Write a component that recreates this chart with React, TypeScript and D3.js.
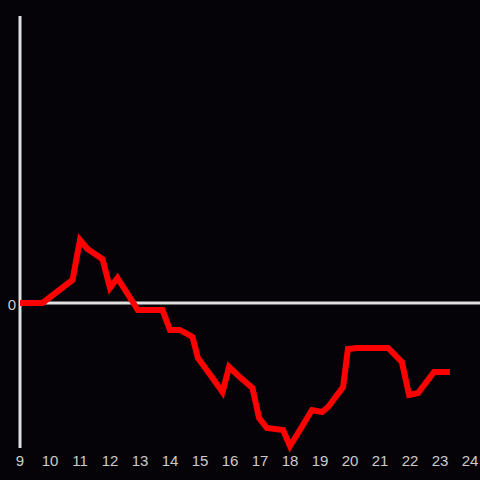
import React from "react";
import * as d3 from "d3";

const times = [9, 9.75, 10.75, 11, 11.25, 11.75, 12, 12.25, 12.93, 13.75, 14, 14.33, 14.75, 14.93, 15.25, 15.75, 15.97, 16.25, 16.75, 16.97, 17.23, 17.77, 18, 18.27, 18.73, 19.07, 19.27, 19.77, 19.93, 20.23, 21.27, 21.73, 21.97, 22.27, 22.8, 23.33];
const values = [0, 0, 2.3, 6.3, 5.4, 4.4, 1.5, 2.5, -0.7, -0.7, -2.7, -2.7, -3.4, -5.5, -6.8, -8.9, -6.4, -7.2, -8.5, -11.5, -12.5, -12.7, -14.3, -13, -10.7, -10.9, -10.4, -8.4, -4.6, -4.5, -4.5, -5.9, -9.2, -9, -6.9, -6.9];
const xTicks = [9, 10, 11, 12, 13, 14, 15, 16, 17, 18, 19, 20, 21, 22, 23, 24];
const yTicks = [0];

export default function App() {
  const W = 480, H = 480;
  const x = d3.scaleLinear().domain([9, 24]).range([20, 470]);
  const y = d3.scaleLinear().domain([-14.5, 28.7]).range([448, 16]);
  const line = d3.line<number>().x((_, i) => x(times[i])).y((d) => y(d));
  const axisColor = "#e0e0e0";
  const font = "Liberation Sans, Arial, sans-serif";
  return (
    <svg width={W} height={H} style={{ position: "absolute", left: 0, top: 0, background: "#050307" }}>
      <rect x={0} y={0} width={W} height={H} fill="#050307" />
      <line x1={x(9)} x2={x(9)} y1={16} y2={448} stroke={axisColor} strokeWidth={3} />
      <line x1={x(9)} x2={W} y1={y(0)} y2={y(0)} stroke={axisColor} strokeWidth={3} />
      {yTicks.map((t) => (
        <text key={t} x={16} y={y(t) + 1.5} dy="0.35em" textAnchor="end" fill="#cccccc" fontSize={15} fontFamily={font}>{t}</text>
      ))}
      {xTicks.map((t) => (
        <text key={t} x={x(t)} y={461} dy="0.35em" textAnchor="middle" fill="#cccccc" fontSize={15} fontFamily={font}>{t}</text>
      ))}
      <path d={line(values) || ""} fill="none" stroke="#ff0000" strokeWidth={6} strokeLinejoin="miter" strokeLinecap="butt" />
    </svg>
  );
}
